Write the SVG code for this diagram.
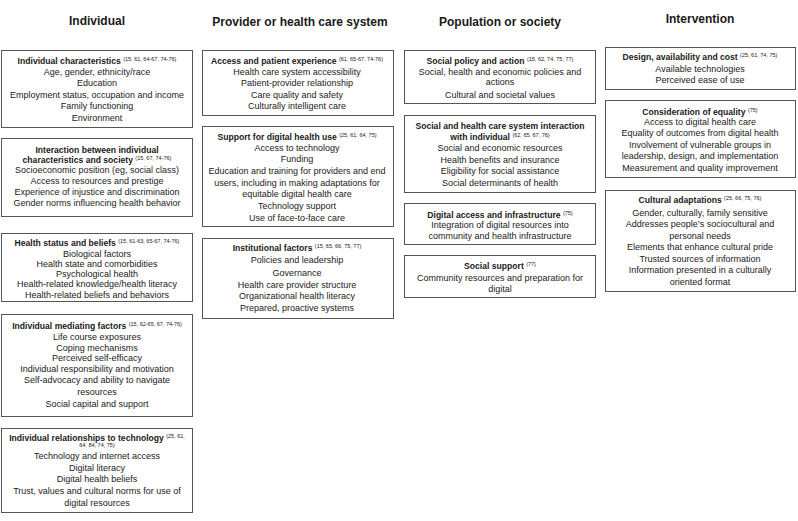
<svg xmlns="http://www.w3.org/2000/svg" width="798" height="521" viewBox="0 0 798 521">
<style>
text{font-family:"Liberation Sans",Arial,sans-serif;fill:#1a1a1a;text-anchor:middle}
.h{font-size:12px;font-weight:bold}
.b{font-size:9px}
.t{font-size:8.6px;font-weight:bold}
.s{font-size:5.5px;font-weight:normal}
rect{fill:#fff;stroke:#555;stroke-width:1}
</style>
<rect x="0" y="0" width="798" height="521" style="fill:#fff;stroke:none"/>
<g id="headers">
<text class="h" x="97" y="25">Individual</text>
<text class="h" x="300" y="26">Provider or health care system</text>
<text class="h" x="500" y="26">Population or society</text>
<text class="h" x="700" y="23">Intervention</text>
</g>
<g id="connectors"/>
<!-- Column 1 -->
<g id="ind1">
<rect x="1.5" y="50.5" width="191" height="77"/>
<text class="t" x="97" y="64">Individual characteristics <tspan class="s" dy="-3">(15, 61, 64-67, 74-76)</tspan></text>
<text class="b" x="97" y="74.5">Age, gender, ethnicity/race</text>
<text class="b" x="97" y="85.5">Education</text>
<text class="b" x="97" y="98">Employment status, occupation and income</text>
<text class="b" x="97" y="109">Family functioning</text>
<text class="b" x="97" y="121">Environment</text>
</g>
<g id="ind2">
<rect x="1.5" y="138.5" width="191" height="78"/>
<text class="t" x="97" y="153">Interaction between individual</text>
<text class="t" x="97" y="163">characteristics and society <tspan class="s" dy="-3">(15, 67, 74-76)</tspan></text>
<text class="b" x="97" y="173">Socioeconomic position (eg, social class)</text>
<text class="b" x="97" y="184">Access to resources and prestige</text>
<text class="b" x="97" y="195">Experience of injustice and discrimination</text>
<text class="b" x="97" y="205.5">Gender norms influencing health behavior</text>
</g>
<g id="ind3">
<rect x="1.5" y="233.5" width="191" height="68"/>
<text class="t" x="97" y="246">Health status and beliefs <tspan class="s" dy="-3">(15, 61-63, 65-67, 74-76)</tspan></text>
<text class="b" x="97" y="256.5">Biological factors</text>
<text class="b" x="97" y="266.5">Health state and comorbidities</text>
<text class="b" x="97" y="276.5">Psychological health</text>
<text class="b" x="97" y="287">Health-related knowledge/health literacy</text>
<text class="b" x="97" y="297.5">Health-related beliefs and behaviors</text>
</g>
<g id="ind4">
<rect x="1.5" y="314.5" width="191" height="102"/>
<text class="t" x="97" y="329">Individual mediating factors <tspan class="s" dy="-3">(15, 62-65, 67, 74-76)</tspan></text>
<text class="b" x="97" y="339.5">Life course exposures</text>
<text class="b" x="97" y="350.5">Coping mechanisms</text>
<text class="b" x="97" y="361">Perceived self-efficacy</text>
<text class="b" x="97" y="372">Individual responsibility and motivation</text>
<text class="b" x="97" y="383">Self-advocacy and ability to navigate</text>
<text class="b" x="97" y="395">resources</text>
<text class="b" x="97" y="407">Social capital and support</text>
</g>
<g id="ind5">
<rect x="1.5" y="428.5" width="191" height="84"/>
<text class="t" x="97" y="441">Individual relationships to technology <tspan class="s" dy="-3">(25, 61,</tspan></text>
<text class="s" x="97" y="447">64, 84, 74, 75)</text>
<text class="b" x="97" y="459">Technology and internet access</text>
<text class="b" x="97" y="470.5">Digital literacy</text>
<text class="b" x="97" y="482">Digital health beliefs</text>
<text class="b" x="97" y="494">Trust, values and cultural norms for use of</text>
<text class="b" x="97" y="506">digital resources</text>
</g>
<!-- Column 2 -->
<g id="prov1">
<rect x="202.5" y="50.5" width="191" height="65"/>
<text class="t" x="297" y="64">Access and patient experience <tspan class="s" dy="-3">(61, 65-67, 74-76)</tspan></text>
<text class="b" x="297" y="74.5">Health care system accessibility</text>
<text class="b" x="297" y="86">Patient-provider relationship</text>
<text class="b" x="297" y="98">Care quality and safety</text>
<text class="b" x="297" y="109">Culturally intelligent care</text>
</g>
<g id="prov2">
<rect x="202.5" y="126.5" width="191" height="100"/>
<text class="t" x="297" y="140">Support for digital health use <tspan class="s" dy="-3">(25, 61, 64, 75)</tspan></text>
<text class="b" x="297" y="150.5">Access to technology</text>
<text class="b" x="297" y="162">Funding</text>
<text class="b" x="297" y="174">Education and training for providers and end</text>
<text class="b" x="297" y="185.5">users, including in making adaptations for</text>
<text class="b" x="297" y="197">equitable digital health care</text>
<text class="b" x="297" y="209">Technology support</text>
<text class="b" x="297" y="221">Use of face-to-face care</text>
</g>
<g id="prov3">
<rect x="202.5" y="238.5" width="191" height="80"/>
<text class="t" x="297" y="251">Institutional factors <tspan class="s" dy="-3">(15, 65, 66, 75, 77)</tspan></text>
<text class="b" x="297" y="263">Policies and leadership</text>
<text class="b" x="297" y="275.5">Governance</text>
<text class="b" x="297" y="288">Health care provider structure</text>
<text class="b" x="297" y="299">Organizational health literacy</text>
<text class="b" x="297" y="311">Prepared, proactive systems</text>
</g>
<!-- Column 3 -->
<g id="pop1">
<rect x="404.5" y="50.5" width="191" height="53"/>
<text class="t" x="500" y="64">Social policy and action <tspan class="s" dy="-3">(15, 62, 74, 75, 77)</tspan></text>
<text class="b" x="500" y="74.5">Social, health and economic policies and</text>
<text class="b" x="500" y="85">actions</text>
<text class="b" x="500" y="98">Cultural and societal values</text>
</g>
<g id="pop2">
<rect x="404.5" y="115.5" width="191" height="77"/>
<text class="t" x="500" y="129">Social and health care system interaction</text>
<text class="t" x="500" y="140">with individual <tspan class="s" dy="-3">(62, 65, 67, 76)</tspan></text>
<text class="b" x="500" y="151">Social and economic resources</text>
<text class="b" x="500" y="163">Health benefits and insurance</text>
<text class="b" x="500" y="174">Eligibility for social assistance</text>
<text class="b" x="500" y="186">Social determinants of health</text>
</g>
<g id="pop3">
<rect x="404.5" y="203.5" width="191" height="41"/>
<text class="t" x="500" y="218">Digital access and infrastructure <tspan class="s" dy="-3">(75)</tspan></text>
<text class="b" x="500" y="228">Integration of digital resources into</text>
<text class="b" x="500" y="239">community and health infrastructure</text>
</g>
<g id="pop4">
<rect x="404.5" y="255.5" width="191" height="42"/>
<text class="t" x="500" y="269">Social support <tspan class="s" dy="-3">(77)</tspan></text>
<text class="b" x="500" y="281">Community resources and preparation for</text>
<text class="b" x="500" y="291.5">digital</text>
</g>
<!-- Column 4 -->
<g id="int1">
<rect x="605.5" y="47.5" width="190" height="42"/>
<text class="t" x="700" y="60">Design, availability and cost <tspan class="s" dy="-3">(25, 61, 74, 75)</tspan></text>
<text class="b" x="700" y="72">Available technologies</text>
<text class="b" x="700" y="83">Perceived ease of use</text>
</g>
<g id="int2">
<rect x="605.5" y="100.5" width="190" height="77"/>
<text class="t" x="700" y="115">Consideration of equality <tspan class="s" dy="-3">(75)</tspan></text>
<text class="b" x="700" y="125">Access to digital health care</text>
<text class="b" x="700" y="136">Equality of outcomes from digital health</text>
<text class="b" x="700" y="147.5">Involvement of vulnerable groups in</text>
<text class="b" x="700" y="159">leadership, design, and implementation</text>
<text class="b" x="700" y="170.5">Measurement and quality improvement</text>
</g>
<g id="int3">
<rect x="605.5" y="190.5" width="190" height="101"/>
<text class="t" x="700" y="203">Cultural adaptations <tspan class="s" dy="-3">(25, 66, 75, 76)</tspan></text>
<text class="b" x="700" y="216">Gender, culturally, family sensitive</text>
<text class="b" x="700" y="227">Addresses people’s sociocultural and</text>
<text class="b" x="700" y="239">personal needs</text>
<text class="b" x="700" y="250">Elements that enhance cultural pride</text>
<text class="b" x="700" y="262">Trusted sources of information</text>
<text class="b" x="700" y="273">Information presented in a culturally</text>
<text class="b" x="700" y="285">oriented format</text>
</g>
</svg>
